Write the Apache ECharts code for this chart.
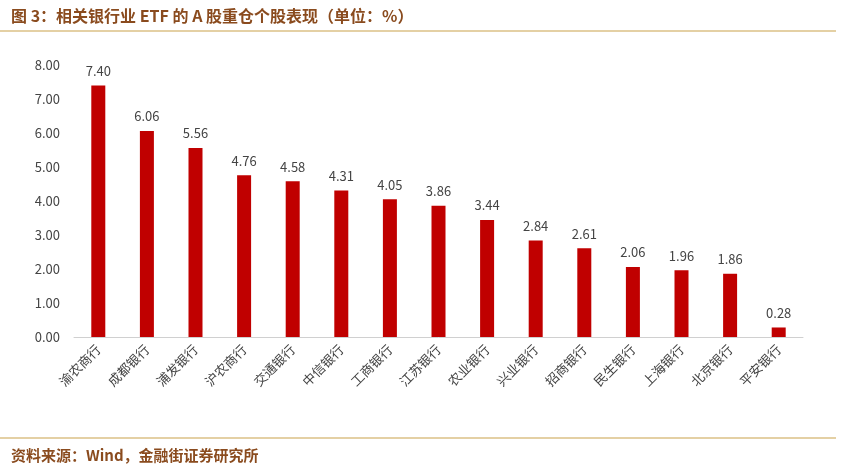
<!DOCTYPE html>
<html><head><meta charset="utf-8">
<script src="https://cdn.jsdelivr.net/npm/echarts@6/dist/echarts.min.js"></script>
<style>body{margin:0;background:#fff}#c{width:841px;height:470px}</style>
</head><body><div id="c"></div>
<script>
const banks = ['渝农商行','成都银行','浦发银行','沪农商行','交通银行','中信银行','工商银行','江苏银行','农业银行','兴业银行','招商银行','民生银行','上海银行','北京银行','平安银行'];
const weights = [7.40,6.06,5.56,4.76,4.58,4.31,4.05,3.86,3.44,2.84,2.61,2.06,1.96,1.86,0.28];

const chart = echarts.init(document.getElementById('c'));
chart.setOption({
  animation: false,
  textStyle: { fontFamily: 'Noto Sans CJK SC' },
  title: [
    { text: '图 3：相关银行业 ETF 的 A 股重仓个股表现（单位：%）', left: 6, top: 3,
      textStyle: { fontSize: 16, fontWeight: 'bold', color: '#8a4b1e' } },
    { text: '资料来源：Wind，金融街证券研究所', left: 6, top: 443,
      textStyle: { fontSize: 15, fontWeight: 'bold', color: '#8a4b1e' } }
  ],
  graphic: [
    { type: 'line', shape: { x1: 0, y1: 31, x2: 836, y2: 31 }, style: { stroke: '#c9a24a', lineWidth: 1.2 } },
    { type: 'line', shape: { x1: 0, y1: 438, x2: 836, y2: 438 }, style: { stroke: '#c9a24a', lineWidth: 1.2 } }
  ],
  grid: { left: 74, right: 38, top: 65, bottom: 133 },
  xAxis: {
    type: 'category', data: banks,
    axisLine: { lineStyle: { color: '#d0d0d0' } },
    axisTick: { show: false },
    axisLabel: { rotate: 45, color: '#444', fontSize: 13, margin: 10 }
  },
  yAxis: {
    type: 'value', min: 0, max: 8, interval: 1,
    splitLine: { show: false },
    axisLabel: { formatter: v => v.toFixed(2), color: '#444', fontSize: 13, margin: 14 }
  },
  series: [{
    type: 'bar', data: weights, barWidth: 14,
    itemStyle: { color: '#c00000' },
    label: { show: true, position: 'top', distance: 8, color: '#444', fontSize: 13,
      formatter: p => p.value.toFixed(2) }
  }]
});
</script></body></html>
